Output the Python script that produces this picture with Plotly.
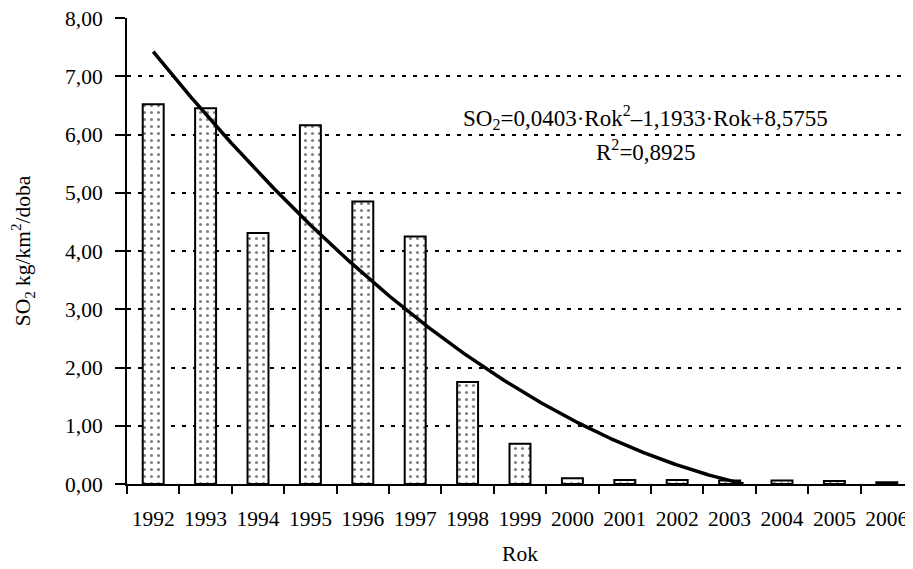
import numpy as np
import plotly.graph_objects as go

years = ["1992","1993","1994","1995","1996","1997","1998","1999","2000","2001","2002","2003","2004","2005","2006"]
so2 = [6.52, 6.45, 4.31, 6.16, 4.85, 4.25, 1.75, 0.69, 0.10, 0.07, 0.07, 0.06, 0.06, 0.05, 0.03]
trend_coef = [0.0403, -1.1933, 8.5755]  # SO2 = a*Rok^2 + b*Rok + c
y_ticks = [0, 1, 2, 3, 4, 5, 6, 7, 8]

idx = list(range(1, len(years) + 1))
xs = np.linspace(1, len(years), 600)
ys = np.polyval(trend_coef, xs)
mask = ys >= 0
xs, ys = xs[mask], ys[mask]

font = "Liberation Serif, Times New Roman, serif"
fs = 21.5

fig = go.Figure()
fig.add_trace(go.Bar(
    x=idx, y=so2, width=0.40,
    marker=dict(color="white", line=dict(color="black", width=2),
                pattern=dict(shape=".", fgcolor="black", bgcolor="white", size=7, solidity=0.15)),
    showlegend=False,
))
fig.add_trace(go.Scatter(x=xs, y=ys, mode="lines", line=dict(color="black", width=3.5), showlegend=False))

# page has an 8px body margin, so the figure is sized 8px smaller
fig.update_layout(
    width=905, height=561,
    margin=dict(l=119, r=0, t=10, b=85),
    paper_bgcolor="white", plot_bgcolor="white",
    separators=", ",
    font=dict(family=font, size=fs, color="black"),
    xaxis=dict(
        range=[0.5, len(years) + 0.5], automargin=False,
        tickvals=idx, ticktext=years, ticks="", showgrid=False,
        showline=True, linecolor="black", linewidth=2,
        minor=dict(tickvals=[i + 0.5 for i in range(0, len(years) + 1)], ticks="outside",
                   ticklen=8, tickwidth=2, tickcolor="black", showgrid=False),
        ticklabelstandoff=14, ticklabeloverflow="allow",
        title=dict(text="Rok", font=dict(size=fs), standoff=16),
        tickfont=dict(size=fs),
        zeroline=False,
    ),
    yaxis=dict(
        range=[0, 8], tickvals=y_ticks, tickformat=".2f", automargin=False,
        ticks="outside", ticklen=10, tickwidth=2, tickcolor="black",
        ticklabelstandoff=8, ticklabeloverflow="allow",
        showline=True, linecolor="black", linewidth=2,
        showgrid=True, gridcolor="black", gridwidth=2, griddash="4px,7px",
        zeroline=False,
        title=dict(text="SO<sub>2</sub> kg/km<sup>2</sup>/doba", font=dict(size=fs), standoff=34),
        tickfont=dict(size=fs),
    ),
    annotations=[
        dict(x=10.4, y=6.30, xref="x", yref="y", showarrow=False,
             text="SO<sub>2</sub>=0,0403·Rok<sup>2</sup>–1,1933·Rok+8,5755", font=dict(size=23)),
        dict(x=10.4, y=5.72, xref="x", yref="y", showarrow=False,
             text="R<sup>2</sup>=0,8925", font=dict(size=23)),
    ],
)

fig.write_html("out.html")
